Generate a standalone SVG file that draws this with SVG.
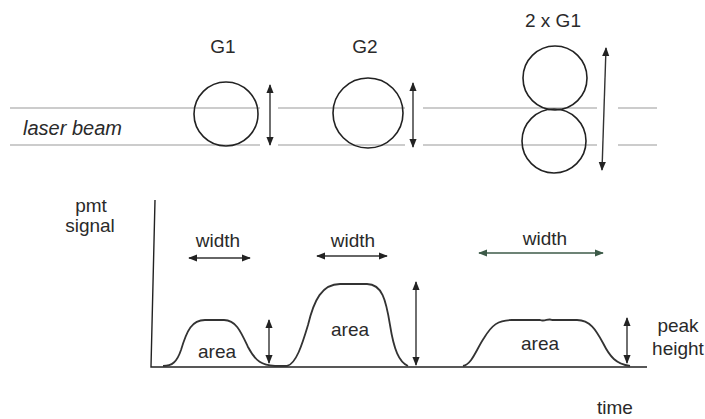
<svg xmlns="http://www.w3.org/2000/svg" width="705" height="419" viewBox="0 0 705 419">
<defs>
<marker id="ah" viewBox="0 0 10 10" refX="9" refY="5" markerWidth="9" markerHeight="9" markerUnits="userSpaceOnUse" orient="auto-start-reverse">
<path d="M0,1 L10,5 L0,9 Z" fill="#222"/>
</marker>
<marker id="ahg" viewBox="0 0 10 10" refX="9" refY="5" markerWidth="9" markerHeight="9" markerUnits="userSpaceOnUse" orient="auto-start-reverse">
<path d="M0,1 L10,5 L0,9 Z" fill="#3c5a48"/>
</marker>
</defs>
<style>
text{font-family:"Liberation Sans",Arial,sans-serif;fill:#2a2a2a;font-size:19px;}
.lbl{text-anchor:middle;}
.it{font-style:italic;font-size:20px;}
.beam{stroke:#999;stroke-width:1.2;fill:none;}
.cell{stroke:#222;stroke-width:1.6;fill:none;}
.arr{stroke:#333;stroke-width:1.4;fill:none;marker-start:url(#ah);marker-end:url(#ah);}
.arrg{stroke:#3c5a48;stroke-width:1.4;fill:none;marker-start:url(#ahg);marker-end:url(#ahg);}
.sig{stroke:#333;stroke-width:1.8;fill:none;}
.axis{stroke:#222;stroke-width:1.4;fill:none;}
</style>
<rect width="705" height="419" fill="#fff"/>

<g id="laser-beam">
<path class="beam" d="M10,108 H260 M278,108 H405 M423,108 H597 M618,108 H657 M10,145 H260 M278,145 H405 M423,145 H597 M618,145 H657"/>
<text class="it" x="23" y="135">laser beam</text>
</g>

<g id="g1">
<text class="lbl" x="223" y="53">G1</text>
<circle class="cell" cx="226" cy="114" r="32"/>
</g>
<g id="g2">
<text class="lbl" x="365" y="53">G2</text>
<circle class="cell" cx="368" cy="113" r="35"/>
</g>
<g id="g1x2">
<text class="lbl" x="553" y="27">2 x G1</text>
<circle class="cell" cx="555" cy="78" r="32"/>
<circle class="cell" cx="554" cy="141" r="32"/>
</g>

<g id="axes">
<path class="axis" d="M155,200 L151,367 H647"/>
<text class="lbl" x="91" y="212">pmt</text>
<text class="lbl" x="90" y="232">signal</text>
<text class="lbl" x="615" y="414">time</text>
</g>

<g id="signal">
<path class="sig" d="M163,366 C172,366 177,362 181,350 C187,330 192,320 205,320 L224,320 C236,320 241,332 248,347 C256,362 262,365 275,366 L287,366 C296,364 302,345 308,325 C314,300 322,284 340,284 L367,284 C382,284 386,300 390,325 C394,350 399,362 408,366"/>
<path class="sig" d="M463,366 C472,364 476,350 484,338 C492,325 498,320 512,320 L540,320 C545,322 548,318 552,320 L577,320 C590,320 596,330 603,343 C610,357 616,364 630,366"/>
</g>

<g id="peak1">
<text class="lbl" x="218" y="247">width</text>
<line class="arr" x1="189" y1="258" x2="250" y2="258"/>
<text class="lbl" x="217" y="358">area</text>
<line class="arr" x1="269" y1="320" x2="269" y2="363"/>
</g>
<g id="peak2">
<text class="lbl" x="353" y="247">width</text>
<line class="arr" x1="317" y1="256" x2="387" y2="256"/>
<text class="lbl" x="350" y="336">area</text>
<line class="arr" x1="416" y1="282" x2="416" y2="365"/>
</g>
<g id="peak3">
<text class="lbl" x="545" y="245">width</text>
<line class="arrg" x1="479" y1="253" x2="603" y2="253"/>
<text class="lbl" x="540" y="350">area</text>
<line class="arr" x1="627" y1="318" x2="627" y2="363"/>
<text class="lbl" x="678" y="332">peak</text>
<text class="lbl" x="678" y="355">height</text>
</g>

<g id="connectors">
<line class="arr" x1="270" y1="85" x2="270" y2="145"/>
<line class="arr" x1="413" y1="83" x2="413" y2="147"/>
<line class="arr" x1="606" y1="48" x2="602" y2="170"/>
</g>
</svg>
